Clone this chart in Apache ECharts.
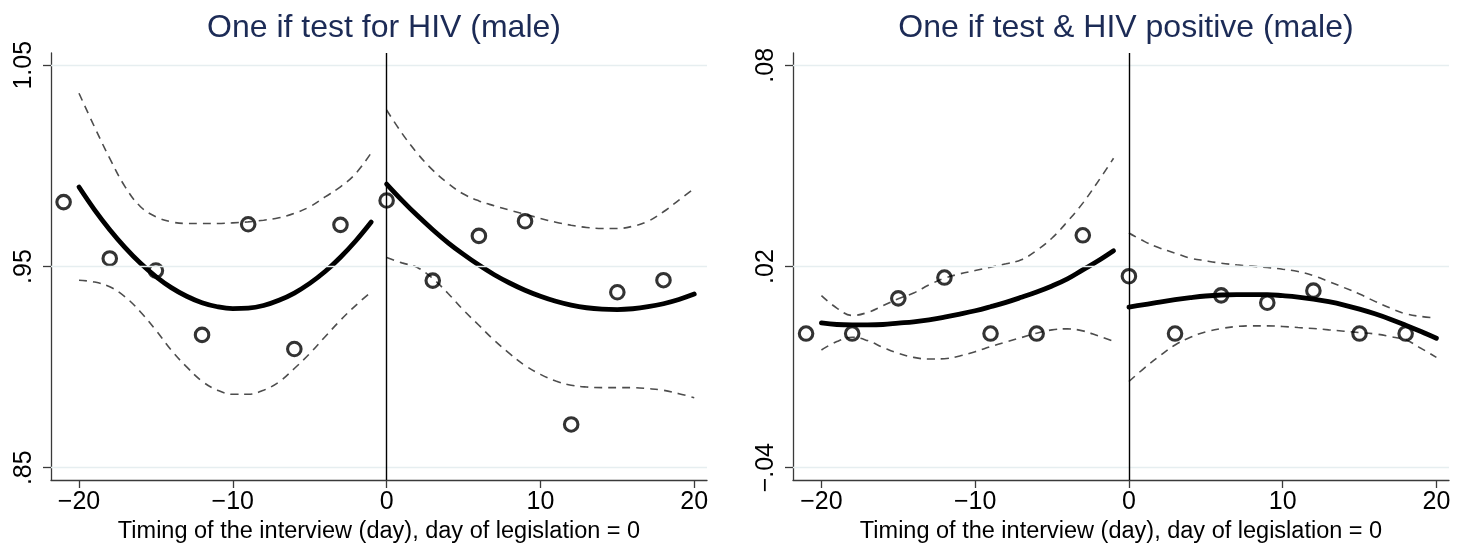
<!DOCTYPE html>
<html>
<head>
<meta charset="utf-8">
<title>HIV testing around the day of legislation</title>
<script src="https://cdn.jsdelivr.net/npm/echarts@6/dist/echarts.min.js"></script>
<style>
  html, body { margin: 0; padding: 0; background: #ffffff; }
  #chart { width: 1466px; height: 551px; }
</style>
</head>
<body>
<div id="chart"></div>
<script>
// Binned means by interview day (3-day bins)
const binDays = [-21, -18, -15, -12, -9, -6, -3, 0, 3, 6, 9, 12, 15, 18];
const testMeans = [0.982, 0.954, 0.948, 0.916, 0.971, 0.909, 0.9707, 0.9828, 0.943, 0.9652, 0.9725, 0.8715, 0.9372, 0.9432];
const posMeans = [0.0, 0.0, 0.0105, 0.0167, 0.0, 0.0, 0.0293, 0.0171, 0.0, 0.0114, 0.0092, 0.0128, 0.0, 0.0];

// Days on each side of the cutoff for the fitted curves
const preDays = [-20, -19, -18, -17, -16, -15, -14, -13, -12, -11, -10, -9, -8, -7, -6, -5, -4, -3, -2, -1];
const postDays = [0, 1, 2, 3, 4, 5, 6, 7, 8, 9, 10, 11, 12, 13, 14, 15, 16, 17, 18, 19, 20];

// Tested for HIV: fit with 95% band
const testFitPre = [0.9895, 0.9783, 0.9683, 0.9594, 0.9516, 0.9450, 0.9395, 0.9352, 0.9320, 0.9300, 0.9291, 0.9293, 0.9306, 0.9332, 0.9368, 0.9416, 0.9475, 0.9546, 0.9628, 0.9721];
const testHiPre = [1.0361, 1.0195, 1.0037, 0.9896, 0.9797, 0.9747, 0.9722, 0.9714, 0.9714, 0.9714, 0.9717, 0.9722, 0.9730, 0.9742, 0.9764, 0.9797, 0.9846, 0.9896, 0.9963, 1.0065];
const testLoPre = [0.9432, 0.9423, 0.9399, 0.9349, 0.9274, 0.9183, 0.9084, 0.9001, 0.8930, 0.8885, 0.8865, 0.8865, 0.8885, 0.8926, 0.8993, 0.9067, 0.9151, 0.9233, 0.9307, 0.9374];
const testFitPost = [0.9910, 0.9829, 0.9753, 0.9683, 0.9618, 0.9560, 0.9507, 0.9459, 0.9418, 0.9382, 0.9352, 0.9327, 0.9308, 0.9295, 0.9288, 0.9286, 0.9290, 0.9300, 0.9315, 0.9336, 0.9363];
const testHiPost = [1.0278, 1.0162, 1.0062, 0.9979, 0.9913, 0.9860, 0.9826, 0.9802, 0.9780, 0.9760, 0.9739, 0.9720, 0.9705, 0.9694, 0.9689, 0.9689, 0.9700, 0.9725, 0.9772, 0.9830, 0.9888];
const testLoPost = [0.9545, 0.9518, 0.9495, 0.9440, 0.9366, 0.9283, 0.9208, 0.9133, 0.9067, 0.9008, 0.8964, 0.8931, 0.8910, 0.8901, 0.8898, 0.8898, 0.8898, 0.8893, 0.8885, 0.8868, 0.8848];

// Tested and HIV positive: fit with 95% band
const posFitPre = [0.0032, 0.0027, 0.0026, 0.0026, 0.0027, 0.0031, 0.0035, 0.0041, 0.0049, 0.0058, 0.0068, 0.0080, 0.0093, 0.0108, 0.0124, 0.0142, 0.0163, 0.0190, 0.0217, 0.0247];
const posHiPre = [0.0113, 0.0076, 0.0054, 0.0063, 0.0083, 0.0104, 0.0121, 0.0145, 0.0165, 0.0178, 0.0188, 0.0198, 0.0208, 0.0220, 0.0248, 0.0285, 0.0334, 0.0389, 0.0454, 0.0523];
const posLoPre = [-0.0049, -0.0024, -0.0011, -0.0021, -0.0041, -0.0059, -0.0071, -0.0076, -0.0075, -0.0067, -0.0054, -0.0039, -0.0025, -0.0012, 0.0001, 0.0011, 0.0014, 0.0008, -0.0007, -0.0023];
const posFitPost = [0.0079, 0.0086, 0.0094, 0.0101, 0.0107, 0.0112, 0.0115, 0.0116, 0.0116, 0.0116, 0.0113, 0.0109, 0.0103, 0.0095, 0.0085, 0.0073, 0.0059, 0.0043, 0.0025, 0.0006, -0.0014];
const posHiPost = [0.0300, 0.0275, 0.0255, 0.0240, 0.0225, 0.0217, 0.0210, 0.0205, 0.0201, 0.0197, 0.0192, 0.0185, 0.0173, 0.0155, 0.0137, 0.0118, 0.0096, 0.0076, 0.0059, 0.0051, 0.0046];
const posLoPost = [-0.0143, -0.0103, -0.0067, -0.0034, -0.0011, 0.0005, 0.0015, 0.0021, 0.0023, 0.0023, 0.0021, 0.0018, 0.0015, 0.0011, 0.0007, 0.0003, -0.0001, -0.0009, -0.0019, -0.0044, -0.0071];

// Axis ticks and titles
const xTicks = [-20, -10, 0, 10, 20];
const testYTicks = [0.85, 0.95, 1.05];
const posYTicks = [-0.04, 0.02, 0.08];
const panelTitles = ['One if test for HIV (male)', 'One if test & HIV positive (male)'];
const xTitle = 'Timing of the interview (day), day of legislation = 0';

const FONT = "'Liberation Sans', Arial, sans-serif";
const AXIS_COLOR = '#3a3a3a';
const GRID_COLOR = '#e6eef0';

const zip = (xs, ys) => xs.map((x, i) => [x, ys[i]]);
const minusSign = s => s.replace('-', '\u2212');
const fmtX = v => minusSign(String(v));
const fmtY = v => minusSign(String(+v.toFixed(2)).replace(/^(-?)0\./, '$1.'));

function xAxisFor(gridIndex, min, max) {
  return {
    type: 'value', gridIndex, min, max,
    name: xTitle, nameLocation: 'middle', nameGap: 37,
    nameTextStyle: { fontFamily: FONT, fontSize: 23.5, color: '#000' },
    axisLine: { show: true, onZero: false, lineStyle: { color: AXIS_COLOR, width: 1.3 } },
    axisTick: { show: true, length: 8, customValues: xTicks, lineStyle: { color: AXIS_COLOR, width: 1.3 } },
    axisLabel: { customValues: xTicks, formatter: fmtX, margin: 10, fontFamily: FONT, fontSize: 25, color: '#000' },
    splitLine: { show: false }
  };
}

function yAxisFor(gridIndex, min, max, ticks) {
  return {
    type: 'value', gridIndex, min, max,
    axisLine: { show: true, onZero: false, lineStyle: { color: AXIS_COLOR, width: 1.3 } },
    axisTick: { show: true, length: 8, customValues: ticks, lineStyle: { color: AXIS_COLOR, width: 1.3 } },
    axisLabel: { customValues: ticks, formatter: fmtY, rotate: 90, margin: 14, fontFamily: FONT, fontSize: 25, color: '#000' },
    splitLine: { show: false }
  };
}

// Horizontal grid lines at the labelled ticks plus the cutoff line at day 0
function guideSeries(idx, ticks) {
  return {
    type: 'line', xAxisIndex: idx, yAxisIndex: idx, data: [], silent: true, z: 1,
    markLine: {
      silent: true, symbol: 'none', animation: false, label: { show: false },
      data: ticks.map(t => ({ yAxis: t, lineStyle: { color: GRID_COLOR, width: 1.3, type: 'solid' } }))
        .concat([{ xAxis: 0, lineStyle: { color: '#000', width: 1.4, type: 'solid' } }])
    }
  };
}

function bandSeries(idx, xs, ys) {
  return {
    type: 'line', xAxisIndex: idx, yAxisIndex: idx, data: zip(xs, ys), smooth: 0.4,
    showSymbol: false, silent: true, z: 2,
    lineStyle: { color: '#4d4d4d', width: 1.6, type: [8, 6] }
  };
}

function fitSeries(idx, xs, ys) {
  return {
    type: 'line', xAxisIndex: idx, yAxisIndex: idx, data: zip(xs, ys), smooth: 0.4,
    showSymbol: false, silent: true, z: 4,
    lineStyle: { color: '#000', width: 4.8, cap: 'round' }
  };
}

function dotSeries(idx, xs, ys) {
  return {
    type: 'scatter', xAxisIndex: idx, yAxisIndex: idx, data: zip(xs, ys),
    symbol: 'circle', symbolSize: 13.5, z: 3,
    itemStyle: { color: 'rgba(255,255,255,0)', borderColor: '#000', borderWidth: 3.1 }
  };
}

const chart = echarts.init(document.getElementById('chart'), null, { renderer: 'canvas' });
chart.setOption({
  backgroundColor: '#ffffff',
  animation: false,
  title: [
    { text: panelTitles[0], left: 379, top: 7, textAlign: 'center',
      textStyle: { fontFamily: FONT, fontSize: 32, fontWeight: 'normal', color: '#1c2b56' } },
    { text: panelTitles[1], left: 1121, top: 7, textAlign: 'center',
      textStyle: { fontFamily: FONT, fontSize: 32, fontWeight: 'normal', color: '#1c2b56' } }
  ],
  grid: [
    { left: 51, right: 759, top: 53, bottom: 71, containLabel: false },
    { left: 793, right: 17, top: 53, bottom: 71, containLabel: false }
  ],
  xAxis: [xAxisFor(0, -21.82, 20.83), xAxisFor(1, -21.85, 20.82)],
  yAxis: [yAxisFor(0, 0.84389, 1.05611, testYTicks), yAxisFor(1, -0.04367, 0.08367, posYTicks)],
  series: [
    guideSeries(0, testYTicks),
    bandSeries(0, preDays, testHiPre),
    bandSeries(0, preDays, testLoPre),
    bandSeries(0, postDays, testHiPost),
    bandSeries(0, postDays, testLoPost),
    dotSeries(0, binDays, testMeans),
    fitSeries(0, preDays, testFitPre),
    fitSeries(0, postDays, testFitPost),

    guideSeries(1, posYTicks),
    bandSeries(1, preDays, posHiPre),
    bandSeries(1, preDays, posLoPre),
    bandSeries(1, postDays, posHiPost),
    bandSeries(1, postDays, posLoPost),
    dotSeries(1, binDays, posMeans),
    fitSeries(1, preDays, posFitPre),
    fitSeries(1, postDays, posFitPost)
  ]
});
</script>
</body>
</html>
